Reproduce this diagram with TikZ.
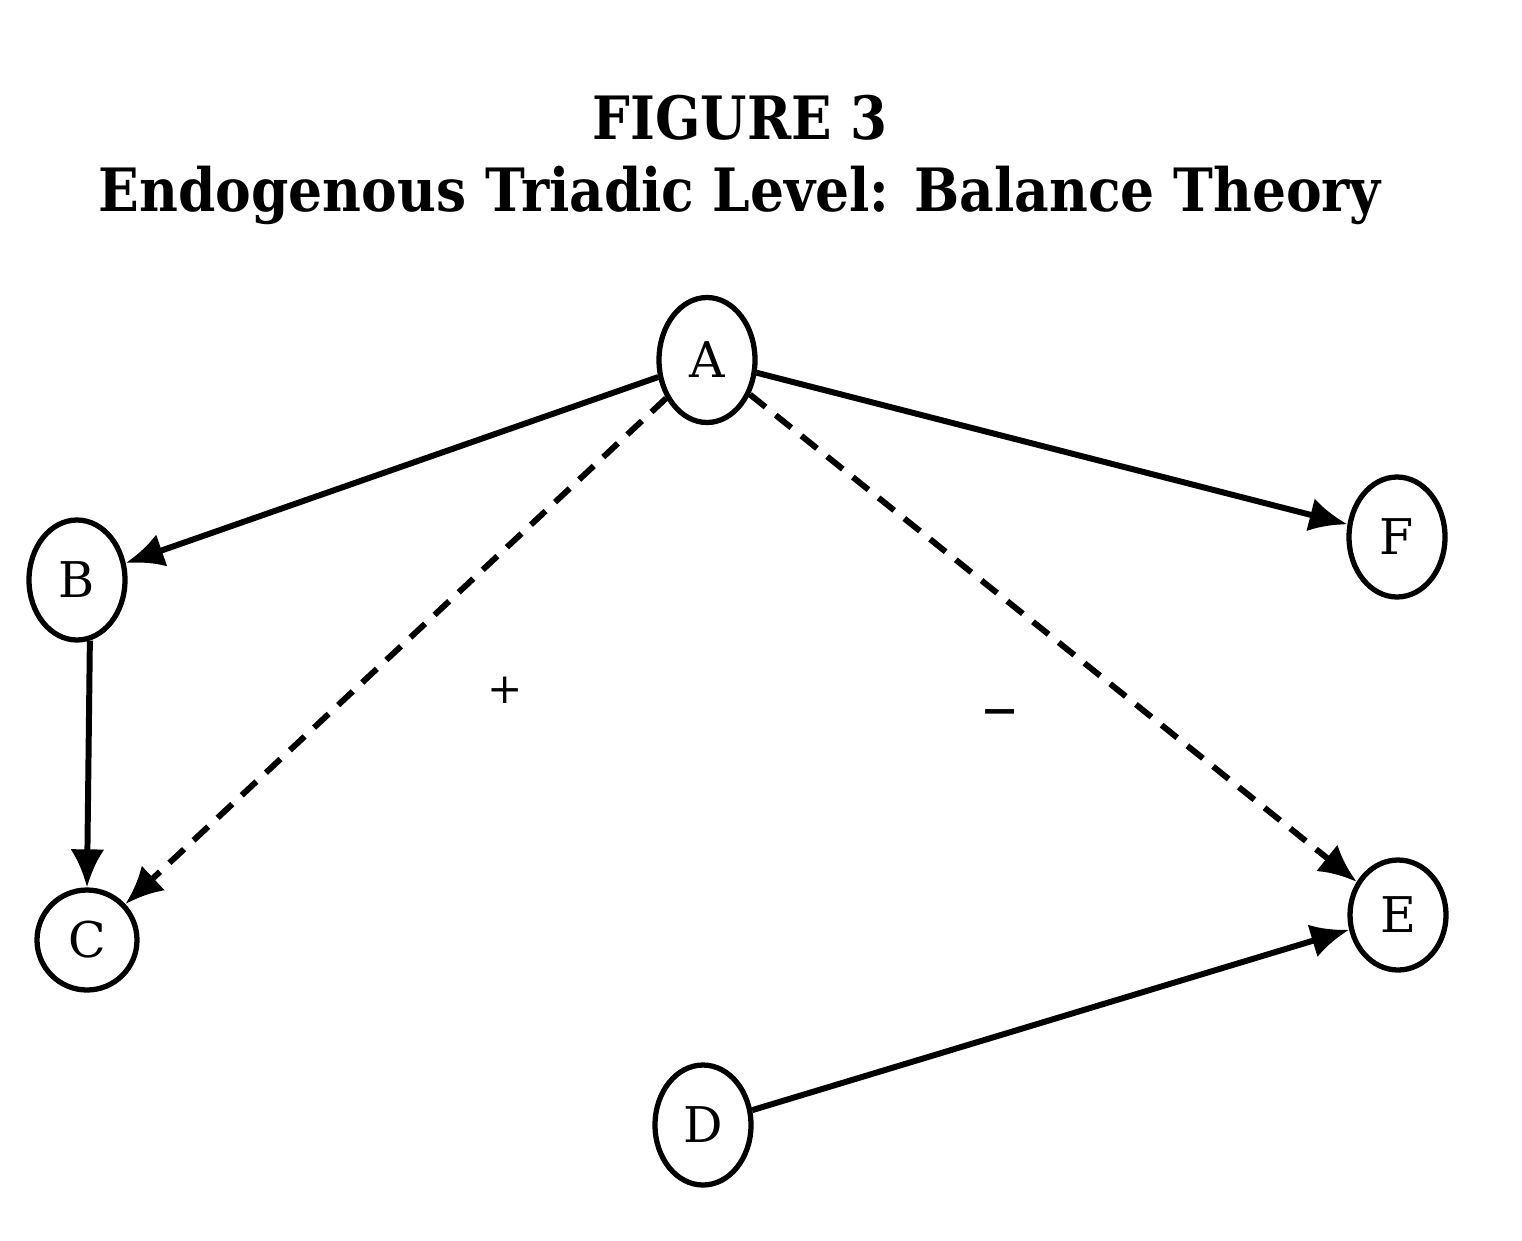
\documentclass[tikz,border=0pt]{standalone}
\usepackage{fontspec}
\setmainfont{DejaVu Serif}
\usetikzlibrary{shapes.geometric,arrows.meta,positioning}

\begin{document}
\begin{tikzpicture}[
    actor/.style={draw, ellipse, line width=1.5pt, inner sep=0pt,
      minimum width=0.96cm, minimum height=1.2cm, font=\fontsize{14}{16}\selectfont},
    tie/.style={line width=1.7pt, -{Latex[length=3.8mm,width=3.4mm]}},
    sentiment/.style={tie, dash pattern=on 2mm off 1.3mm},
    heading/.style={font=\fontsize{17}{20}\selectfont\bfseries}
  ]
    \useasboundingbox (0,0) rectangle (15.22,12.40);

    % title
    \node[heading] (title) at (7.40,11.22) {\scalebox{0.89}[1]{FIGURE 3}};
    \node[heading] (subtitle) at (7.40,10.45) {\scalebox{0.895}[1]{Endogenous Triadic Level: Balance Theory}};

    % actors
    \node[actor, minimum height=1.25cm] (A) at (7.07,8.80) {A};
    \node[actor] (B) at (0.77,6.60) {B};
    \node[actor, minimum width=1cm, minimum height=1cm] (C) at (0.87,3.00) {C};
    \node[actor] (D) at (7.03,1.15) {D};
    \node[actor, minimum height=1.1cm] (E) at (13.98,3.25) {E};
    \node[actor] (F) at (13.97,7.03) {F};

    % ties
    \draw[tie] (A) -- (B);
    \draw[tie] (A) -- (F);
    \draw[tie] (B.-78) -- (C.north);
    \draw[tie] (D) -- (E);

    % balance
    \draw[sentiment] (A) -- (C);
    \draw[sentiment] (A) -- (E);
    \node[font=\fontsize{12}{14}\selectfont] (plus) at (5.05,5.50) {+};
    \node[font=\fontsize{20}{22}\selectfont] (minus) at (10.00,5.20) {--};
\end{tikzpicture}
\end{document}
